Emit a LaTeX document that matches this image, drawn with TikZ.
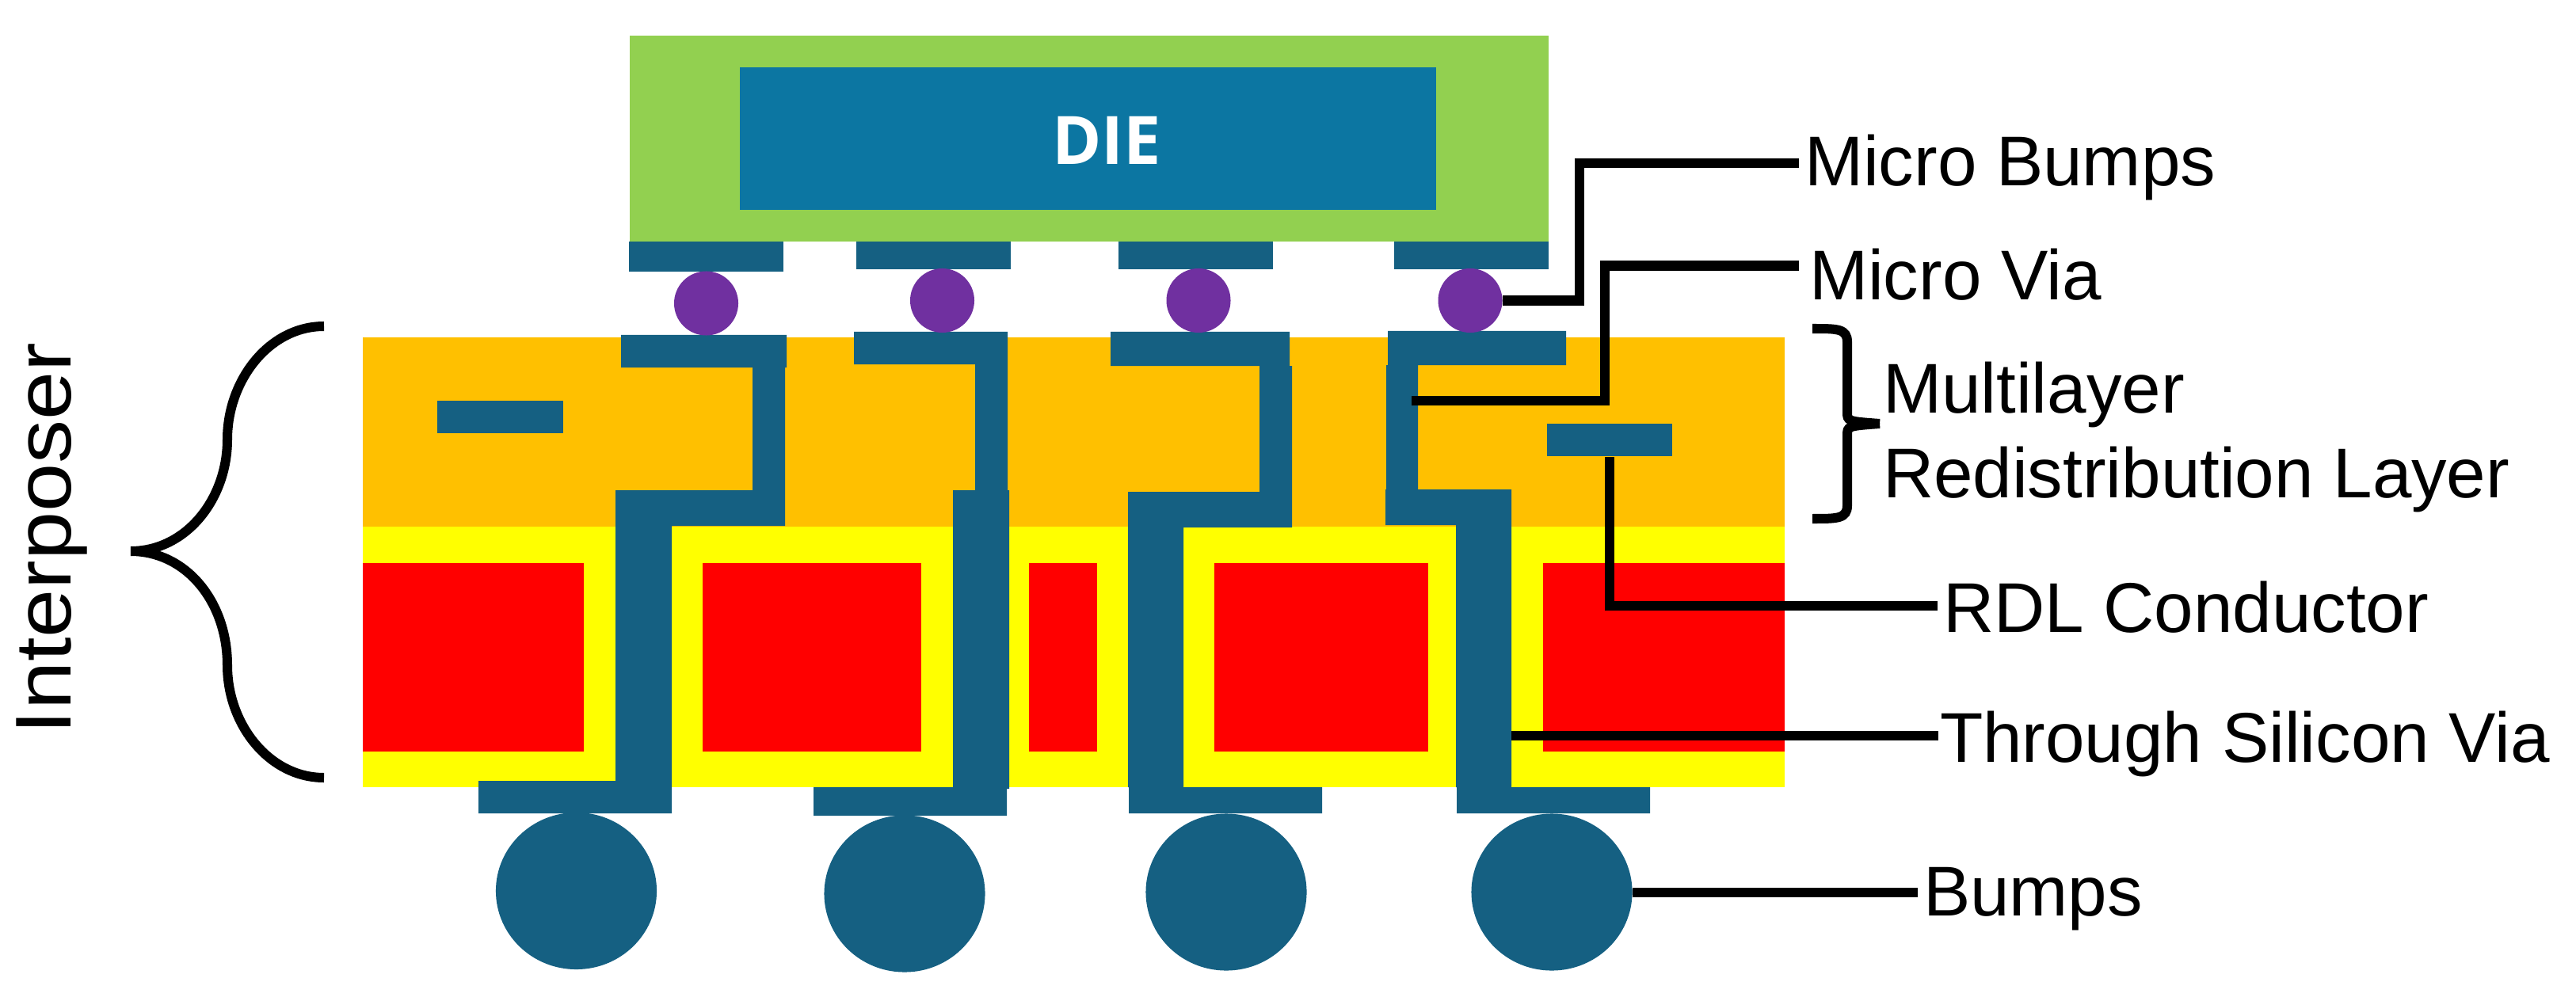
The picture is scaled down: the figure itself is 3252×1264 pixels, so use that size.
\documentclass[tikz,border=0pt]{standalone}
\usepackage{fontspec}
\setmainfont{Liberation Sans}
\newfontfamily\diefont{Open Sans}
\definecolor{pkggreen}{RGB}{146, 208, 80}
\definecolor{dieblue}{RGB}{12, 118, 162}
\definecolor{metalblue}{RGB}{21, 96, 130}
\definecolor{bumppurple}{RGB}{112, 48, 160}
\definecolor{rdlorange}{RGB}{255, 192, 0}
\definecolor{oxideyellow}{RGB}{255, 255, 0}
\definecolor{siliconred}{RGB}{255, 0, 0}
\usetikzlibrary{shapes.geometric}
\tikzset{
  metal/.style={fill=metalblue},
  ubump/.style={circle, fill=bumppurple, inner sep=0pt, minimum size=0.81cm},
  ballbump/.style={ellipse, fill=metalblue, inner sep=0pt, minimum width=2.03cm, minimum height=1.98cm},
  leader/.style={draw=black, line width=0.12cm},
  bracket/.style={draw=black, line width=0.12cm},
  callout/.style={font=\fontsize{25.3}{30.4}\selectfont, inner sep=0pt, outer xsep=0.07cm, anchor=base west}
}

\begin{document}
\begin{tikzpicture}[x=0.01cm, y=-0.01cm]
  \useasboundingbox (0, 0) rectangle (3252, 1264);

  % The die and its carrier
  \fill[pkggreen] (795, 45) rectangle (1955, 305);
  \fill[dieblue] (934, 85) rectangle (1813, 265);
  \node (dietext) [font=\diefont\bfseries\fontsize{24}{28}\selectfont, text=white, inner sep=0pt, anchor=base] at (1397, 208) {DIE};

  \fill[metal] (794, 305) rectangle (989, 343);
  \fill[metal] (1081, 305) rectangle (1276, 340);
  \fill[metal] (1412, 305) rectangle (1607, 340);
  \fill[metal] (1760, 305) rectangle (1955, 340);

  % Interposer layers
  \fill[rdlorange] (458, 426) rectangle (2253, 665);
  \fill[oxideyellow] (458, 665) rectangle (2253, 994);
  \fill[siliconred] (458, 711) rectangle (737, 949);
  \fill[siliconred] (887, 711) rectangle (1163, 949);
  \fill[siliconred] (1299, 711) rectangle (1385, 949);
  \fill[siliconred] (1533, 711) rectangle (1803, 949);
  \fill[siliconred] (1948, 711) rectangle (2253, 949);

  % Conductors and vias
  \fill[metal] (552, 506) rectangle (711, 547);
  \node (rdlbar) [fill=metalblue, inner sep=0pt, minimum width=1.58cm, minimum height=0.41cm] at (2032, 555.5) {};
  \fill[metal] (784, 423) -- (993, 423) -- (993, 464) -- (991, 464) -- (991, 664) -- (848, 664) -- (848, 1027) -- (604, 1027) -- (604, 986) -- (777, 986) -- (777, 619) -- (950, 619) -- (950, 464) -- (784, 464) -- cycle;
  \fill[metal] (1078, 419) -- (1272, 419) -- (1272, 619) -- (1274, 619) -- (1274, 996) -- (1271, 996) -- (1271, 1030) -- (1027, 1030) -- (1027, 994) -- (1203, 994) -- (1203, 619) -- (1231, 619) -- (1231, 460) -- (1078, 460) -- cycle;
  \fill[metal] (1402, 419) -- (1628, 419) -- (1628, 462) -- (1631, 462) -- (1631, 666) -- (1494, 666) -- (1494, 994) -- (1669, 994) -- (1669, 1027) -- (1425, 1027) -- (1425, 994) -- (1424, 994) -- (1424, 621) -- (1590, 621) -- (1590, 462) -- (1402, 462) -- cycle;
  \fill[metal] (1752, 418) -- (1977, 418) -- (1977, 461) -- (1790, 461) -- (1790, 618) -- (1908, 618) -- (1908, 994) -- (2083, 994) -- (2083, 1027) -- (1839, 1027) -- (1839, 994) -- (1838, 994) -- (1838, 663) -- (1749, 663) -- (1749, 618) -- (1750, 618) -- (1750, 461) -- (1752, 461) -- cycle;

  % Bumps
  \node (ubumpa) [ubump] at (891.5, 383) {};
  \node (ubumpb) [ubump] at (1189.5, 379.5) {};
  \node (ubumpc) [ubump] at (1513, 379.5) {};
  \node (ubumpd) [ubump] at (1856, 379.5) {};
  \node (bumpa) [ballbump] at (727.5, 1125) {};
  \node (bumpb) [ballbump] at (1142, 1128.5) {};
  \node (bumpc) [ballbump] at (1548, 1126.5) {};
  \node (bumpd) [ballbump] at (1959, 1126.5) {};

  % Callouts
  \node (lblubump) [callout] at (2271, 235) {Micro Bumps};
  \node (lblvia) [callout, outer xsep=0.13cm] at (2271, 379) {Micro Via};
  \node (lblrdl) [callout, align=left] at (2370, 628) {Multilayer\\Redistribution Layer};
  \node (lblconductor) [callout] at (2446, 798) {RDL Conductor};
  \node (lbltsv) [callout, outer xsep=0.02cm] at (2447, 962) {Through Silicon Via};
  \node (lblbump) [callout] at (2421, 1156) {Bumps};

  \coordinate (ubumpturn) at (1994, 206);
  \coordinate (viastart) at (1782, 506);
  \coordinate (viaturn) at (2026, 335.5);
  \coordinate (rdlturn) at (2032, 765);
  \coordinate (tsvedge) at (1908, 929);

  \draw[leader] (ubumpd.east) -| (ubumpturn) -- (ubumpturn -| lblubump.west);
  \draw[leader] (viastart) -| (viaturn) -- (viaturn -| lblvia.west);
  \draw[leader] (rdlbar.south) -- (rdlturn) -- (rdlturn -| lblconductor.west);
  \draw[leader] (tsvedge) -- (tsvedge -| lbltsv.west);
  \draw[leader] (bumpd.east) -- (bumpd.east -| lblbump.west);

  % Braces
  \draw[leader] (409, 412) .. controls (340, 412) and (287, 480) .. (287, 555) .. controls (287, 630) and (235, 696) .. (165, 696);
  \draw[leader] (165, 696) .. controls (235, 696) and (287, 760) .. (287, 840) .. controls (287, 915) and (340, 982) .. (409, 982);
  \draw[bracket] (2288, 415) .. controls (2320, 415) and (2332, 415) .. (2332, 432) -- (2332, 520) .. controls (2332, 532) .. (2373, 535);
  \draw[bracket] (2373, 535) .. controls (2332, 538) .. (2332, 550) -- (2332, 638) .. controls (2332, 655) and (2320, 655) .. (2288, 655);

  \node (lblinterposer) [font=\fontsize{28.4}{34}\selectfont, rotate=90, inner sep=0pt, anchor=base] at (89, 680) {\scalebox{1.1}[1]{Interposer}};
\end{tikzpicture}
\end{document}
